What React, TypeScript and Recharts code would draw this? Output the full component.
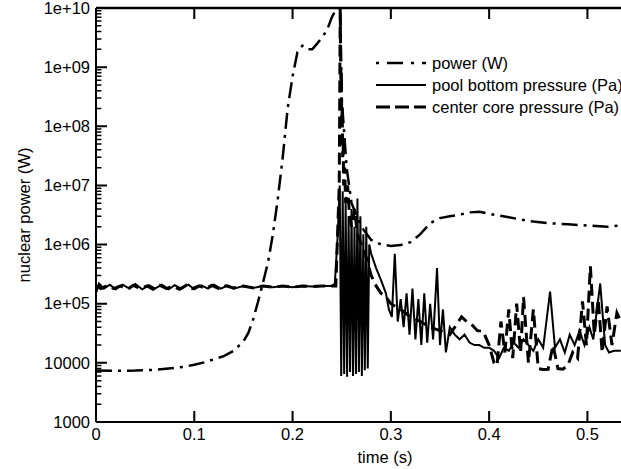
import { LineChart, Line, XAxis, YAxis, Legend } from "recharts";

const FONT = "'Liberation Sans', Arial, sans-serif";

const X_TICKS = [0, 0.1, 0.2, 0.3, 0.4, 0.5];
const Y_LABELS = ["1000", "10000", "1e+05", "1e+06", "1e+07", "1e+08", "1e+09", "1e+10"];
const Y_MAJOR = [1e3, 1e4, 1e5, 1e6, 1e7, 1e8, 1e9, 1e10];

// power (W)
const powerT = [0, 0.02, 0.04, 0.06, 0.08, 0.09, 0.1, 0.11, 0.12, 0.13, 0.14, 0.15, 0.155, 0.16, 0.165, 0.17, 0.175, 0.18, 0.185, 0.19, 0.195, 0.2, 0.205, 0.21, 0.215, 0.22, 0.225, 0.23, 0.235, 0.24, 0.245, 0.2485, 0.25, 0.255, 0.26, 0.27, 0.28, 0.29, 0.3, 0.31, 0.32, 0.33, 0.34, 0.35, 0.36, 0.37, 0.38, 0.39, 0.4, 0.42, 0.44, 0.46, 0.48, 0.5, 0.52, 0.534];
const powerV = [7400, 7350, 7400, 7600, 8200, 8600, 9300, 10200, 11500, 13000, 16000, 23000, 32000, 55000, 1.1e5, 2.3e5, 5e5, 1.5e6, 6e6, 3e7, 2e8, 7e8, 1.8e9, 2.3e9, 2.0e9, 2.0e9, 2.5e9, 3.2e9, 4.2e9, 7e9, 1e10, 1e10, 3e8, 2e7, 5e6, 2e6, 1.2e6, 1e6, 9.5e5, 9.8e5, 1.1e6, 1.5e6, 2.3e6, 2.8e6, 3e6, 3.2e6, 3.5e6, 3.6e6, 3.3e6, 2.9e6, 2.5e6, 2.3e6, 2.2e6, 2.1e6, 2.0e6, 2.1e6];

// pool bottom pressure (Pa)
const poolT = [0, 0.003, 0.008, 0.014, 0.02, 0.027, 0.034, 0.04, 0.047, 0.054, 0.06, 0.067, 0.074, 0.08, 0.087, 0.094, 0.1, 0.107, 0.114, 0.12, 0.127, 0.134, 0.14, 0.15, 0.16, 0.17, 0.18, 0.19, 0.2, 0.21, 0.22, 0.23, 0.24, 0.243, 0.246, 0.248, 0.2495, 0.251, 0.2525, 0.254, 0.2555, 0.257, 0.2585, 0.26, 0.2615, 0.263, 0.2645, 0.266, 0.2675, 0.269, 0.2705, 0.272, 0.2735, 0.275, 0.2765, 0.278, 0.28, 0.285, 0.29, 0.295, 0.298, 0.301, 0.304, 0.307, 0.31, 0.313, 0.316, 0.319, 0.322, 0.325, 0.328, 0.331, 0.334, 0.337, 0.34, 0.343, 0.347, 0.35, 0.353, 0.356, 0.36, 0.365, 0.37, 0.375, 0.38, 0.385, 0.39, 0.395, 0.4, 0.405, 0.41, 0.415, 0.42, 0.425, 0.43, 0.435, 0.44, 0.445, 0.45, 0.455, 0.462, 0.467, 0.472, 0.477, 0.482, 0.487, 0.492, 0.497, 0.502, 0.506, 0.513, 0.518, 0.522, 0.527, 0.534];
const poolV = [1.5e5, 2.2e5, 1.8e5, 2.1e5, 1.75e5, 2.1e5, 1.8e5, 2.15e5, 1.75e5, 2.05e5, 1.8e5, 2.1e5, 1.75e5, 2.05e5, 1.8e5, 2.1e5, 1.75e5, 2.05e5, 1.8e5, 2.1e5, 1.8e5, 2.05e5, 1.8e5, 2.0e5, 1.85e5, 2.0e5, 1.9e5, 2.0e5, 1.9e5, 2.0e5, 1.95e5, 2.0e5, 2.0e5, 2.2e5, 1.5e6, 1e7, 6000, 8e6, 6500, 5e6, 5800, 3e6, 7000, 4e6, 6000, 2e6, 6500, 6e6, 7000, 3e6, 6000, 1.5e6, 7500, 2e6, 8000, 1e6, 7e5, 4e5, 2.5e5, 1.5e5, 8e4, 6e4, 7e5, 5e4, 1.2e5, 4e4, 1.5e5, 3e4, 1.8e5, 2.5e4, 1.2e5, 2e4, 1.5e5, 2.2e4, 1e5, 2.5e4, 4e5, 2e4, 8e4, 1.5e4, 4e4, 3e4, 2.5e4, 3e4, 2.2e4, 2e4, 2e4, 1.8e4, 1.8e4, 1.6e4, 1.2e4, 1.8e4, 1.6e4, 2.2e4, 1.8e4, 2.5e4, 2e4, 1.6e4, 2.5e4, 1.8e4, 1.6e5, 1.8e4, 2.5e4, 1.5e4, 3e4, 2e4, 3.5e4, 2e4, 4e4, 2.5e4, 2.2e5, 2e4, 1.5e4, 1.6e4, 1.6e4];

// center core pressure (Pa)
const coreT = [0, 0.005, 0.012, 0.018, 0.025, 0.032, 0.038, 0.045, 0.052, 0.058, 0.065, 0.072, 0.078, 0.085, 0.092, 0.098, 0.105, 0.112, 0.118, 0.125, 0.132, 0.14, 0.15, 0.16, 0.17, 0.18, 0.19, 0.2, 0.21, 0.22, 0.23, 0.244, 0.2475, 0.2485, 0.249, 0.2492, 0.2497, 0.25, 0.2505, 0.251, 0.2515, 0.252, 0.253, 0.254, 0.256, 0.258, 0.26, 0.263, 0.266, 0.27, 0.275, 0.28, 0.285, 0.29, 0.295, 0.3, 0.31, 0.32, 0.33, 0.34, 0.35, 0.36, 0.365, 0.372, 0.377, 0.382, 0.388, 0.394, 0.4, 0.405, 0.408, 0.412, 0.416, 0.42, 0.424, 0.428, 0.432, 0.435, 0.44, 0.445, 0.45, 0.455, 0.46, 0.465, 0.47, 0.475, 0.48, 0.485, 0.49, 0.495, 0.499, 0.503, 0.507, 0.511, 0.515, 0.52, 0.525, 0.53, 0.534];
const coreV = [2.0e5, 1.8e5, 2.05e5, 1.8e5, 2.0e5, 1.75e5, 2.05e5, 1.8e5, 2.0e5, 1.75e5, 2.05e5, 1.8e5, 2.0e5, 1.75e5, 2.05e5, 1.8e5, 2.0e5, 1.8e5, 2.05e5, 1.8e5, 2.0e5, 1.85e5, 2.0e5, 1.85e5, 2.0e5, 1.9e5, 2.0e5, 1.9e5, 2.0e5, 1.95e5, 2.0e5, 2.0e5, 1e7, 1e10, 1e9, 5e8, 8e8, 1e8, 2e8, 3e7, 5e7, 1e7, 2e7, 5e6, 1e7, 3e6, 2e6, 4e6, 1.5e6, 1e6, 6e5, 3e5, 2e5, 1.5e5, 1.3e5, 1e5, 8e4, 6e4, 5e4, 4e4, 3.5e4, 3e4, 4e4, 6e4, 5e4, 4.5e4, 3.5e4, 3.4e4, 2e4, 1e4, 9000, 5e4, 1.5e4, 8e4, 1.2e4, 1e5, 1.5e4, 1.3e5, 1e4, 8e4, 8000, 7700, 7800, 2e4, 8000, 7800, 9000, 1.5e4, 1.2e4, 1.1e5, 2e4, 4.3e5, 3e4, 1.2e5, 1.5e4, 9e4, 2e4, 7e4, 5e4];

const zip = (t: number[], v: number[]) => t.map((x, i) => ({ t: x, v: v[i] }));
const power = zip(powerT, powerV);
const pool = zip(poolT, poolV);
const core = zip(coreT, coreV);

const yMinor: number[] = [];
for (let e = 3; e < 10; e++) for (let m = 2; m < 10; m++) yMinor.push(m * Math.pow(10, e));

// inward tick marks as short broken line series (null breaks between ticks)
const X_MAJOR_LEN = 0.0112;
const X_MINOR_LEN = 0.0055;
const Y_TICK_FACTOR = 1.54;
type P = { t: number; v: number | null };
const hTicks = (vals: number[], len: number): P[] =>
  vals.flatMap((v) => [{ t: 0, v }, { t: len, v }, { t: len, v: null }]);
const vTicks = (ts: number[], a: number, b: number): P[] =>
  ts.flatMap((t) => [{ t, v: a }, { t, v: b }, { t, v: null }]);
const yMajorTicks = hTicks(Y_MAJOR, X_MAJOR_LEN);
const yMinorTicks = hTicks(yMinor, X_MINOR_LEN);
const xBottomTicks = vTicks(X_TICKS.slice(1), 1e3, 1e3 * Y_TICK_FACTOR);
const xTopTicks = vTicks(X_TICKS.slice(1), 1e10, 1e10 / Y_TICK_FACTOR);

const YTickLabel = (props: any) => {
  const { x, y, payload } = props;
  return (
    <text x={x + 2} y={y} dy="0.35em" textAnchor="end" fontFamily={FONT} fontSize={16.5} fill="#000">
      {Y_LABELS[Math.round(Math.log10(payload.value)) - 3]}
    </text>
  );
};

const XTickLabel = (props: any) => {
  const { x, y, payload } = props;
  return (
    <text x={x} y={y - 2} dy="0.71em" textAnchor="middle" fontFamily={FONT} fontSize={16.5} fill="#000">
      {String(payload.value)}
    </text>
  );
};

const LEGEND = [
  { name: "power (W)", dash: "3 8 16 8", width: 2.5 },
  { name: "pool bottom pressure (Pa)", dash: undefined, width: 2 },
  { name: "center core pressure (Pa)", dash: "14 5", width: 3 },
];

const renderLegend = () => (
  <div style={{ fontFamily: FONT, fontSize: 16.5, color: "#000", whiteSpace: "nowrap" }}>
    {LEGEND.map((l) => (
      <div key={l.name} style={{ display: "flex", alignItems: "center", height: 22 }}>
        <svg width={52} height={10} style={{ marginRight: 4 }}>
          <line x1={0} x2={50} y1={5} y2={5} stroke="#000" strokeWidth={l.width} strokeDasharray={l.dash} />
        </svg>
        <span>{l.name}</span>
      </div>
    ))}
  </div>
);

const X_DOMAIN = [0, 0.5535];

export default function App() {
  return (
    <div style={{ position: "absolute", left: 0, top: 0, width: 621, height: 469, overflow: "hidden", background: "#fff" }}>
      <LineChart width={640} height={469} margin={{ top: 8, right: 0, left: 0, bottom: 17 }}>
        <XAxis
          xAxisId="top"
          orientation="top"
          type="number"
          dataKey="t"
          domain={X_DOMAIN}
          ticks={X_TICKS}
          height={1}
          mirror
          tick={false}
          tickLine={false}
          axisLine={{ stroke: "#000", strokeWidth: 2.5 }}
        />
        <XAxis
          xAxisId="main"
          type="number"
          dataKey="t"
          domain={X_DOMAIN}
          ticks={X_TICKS}
          interval={0}
          height={30}
          tick={XTickLabel}
          tickLine={false}
          axisLine={{ stroke: "#000", strokeWidth: 2 }}
          label={{ value: "time (s)", position: "bottom", offset: -1, dx: 17, style: { fontFamily: FONT, fontSize: 16.5, fill: "#000" } }}
        />
        <YAxis
          type="number"
          scale="log"
          domain={[1e3, 1e10]}
          allowDataOverflow
          ticks={Y_MAJOR}
          interval={0}
          width={96}
          tick={YTickLabel}
          tickLine={false}
          axisLine={{ stroke: "#000", strokeWidth: 2 }}
          label={{ value: "nuclear power (W)", angle: -90, position: "insideLeft", offset: 24, style: { textAnchor: "middle", fontFamily: FONT, fontSize: 16.5, fill: "#000" } }}
        />
        <Legend
          layout="horizontal"
          verticalAlign="middle"
          align="center"
          content={renderLegend}
          wrapperStyle={{ position: "absolute", left: 376, top: 52, width: 300 }}
        />
        <Line xAxisId="main" data={yMajorTicks} dataKey="v" type="linear" dot={false} stroke="#000" strokeWidth={2} isAnimationActive={false} legendType="none" />
        <Line xAxisId="main" data={yMinorTicks} dataKey="v" type="linear" dot={false} stroke="#000" strokeWidth={1.5} isAnimationActive={false} legendType="none" />
        <Line xAxisId="main" data={xBottomTicks} dataKey="v" type="linear" dot={false} stroke="#000" strokeWidth={2} isAnimationActive={false} legendType="none" />
        <Line xAxisId="main" data={xTopTicks} dataKey="v" type="linear" dot={false} stroke="#000" strokeWidth={2} isAnimationActive={false} legendType="none" />
        <Line xAxisId="main" data={power} dataKey="v" type="linear" dot={false} stroke="#000" strokeWidth={2.5} strokeDasharray="16 6 3 6" isAnimationActive={false} />
        <Line xAxisId="top" data={pool} dataKey="v" type="linear" dot={false} stroke="#000" strokeWidth={2} isAnimationActive={false} />
        <Line xAxisId="main" data={core} dataKey="v" type="linear" dot={false} stroke="#000" strokeWidth={3} strokeDasharray="12 6" isAnimationActive={false} />
      </LineChart>
    </div>
  );
}
